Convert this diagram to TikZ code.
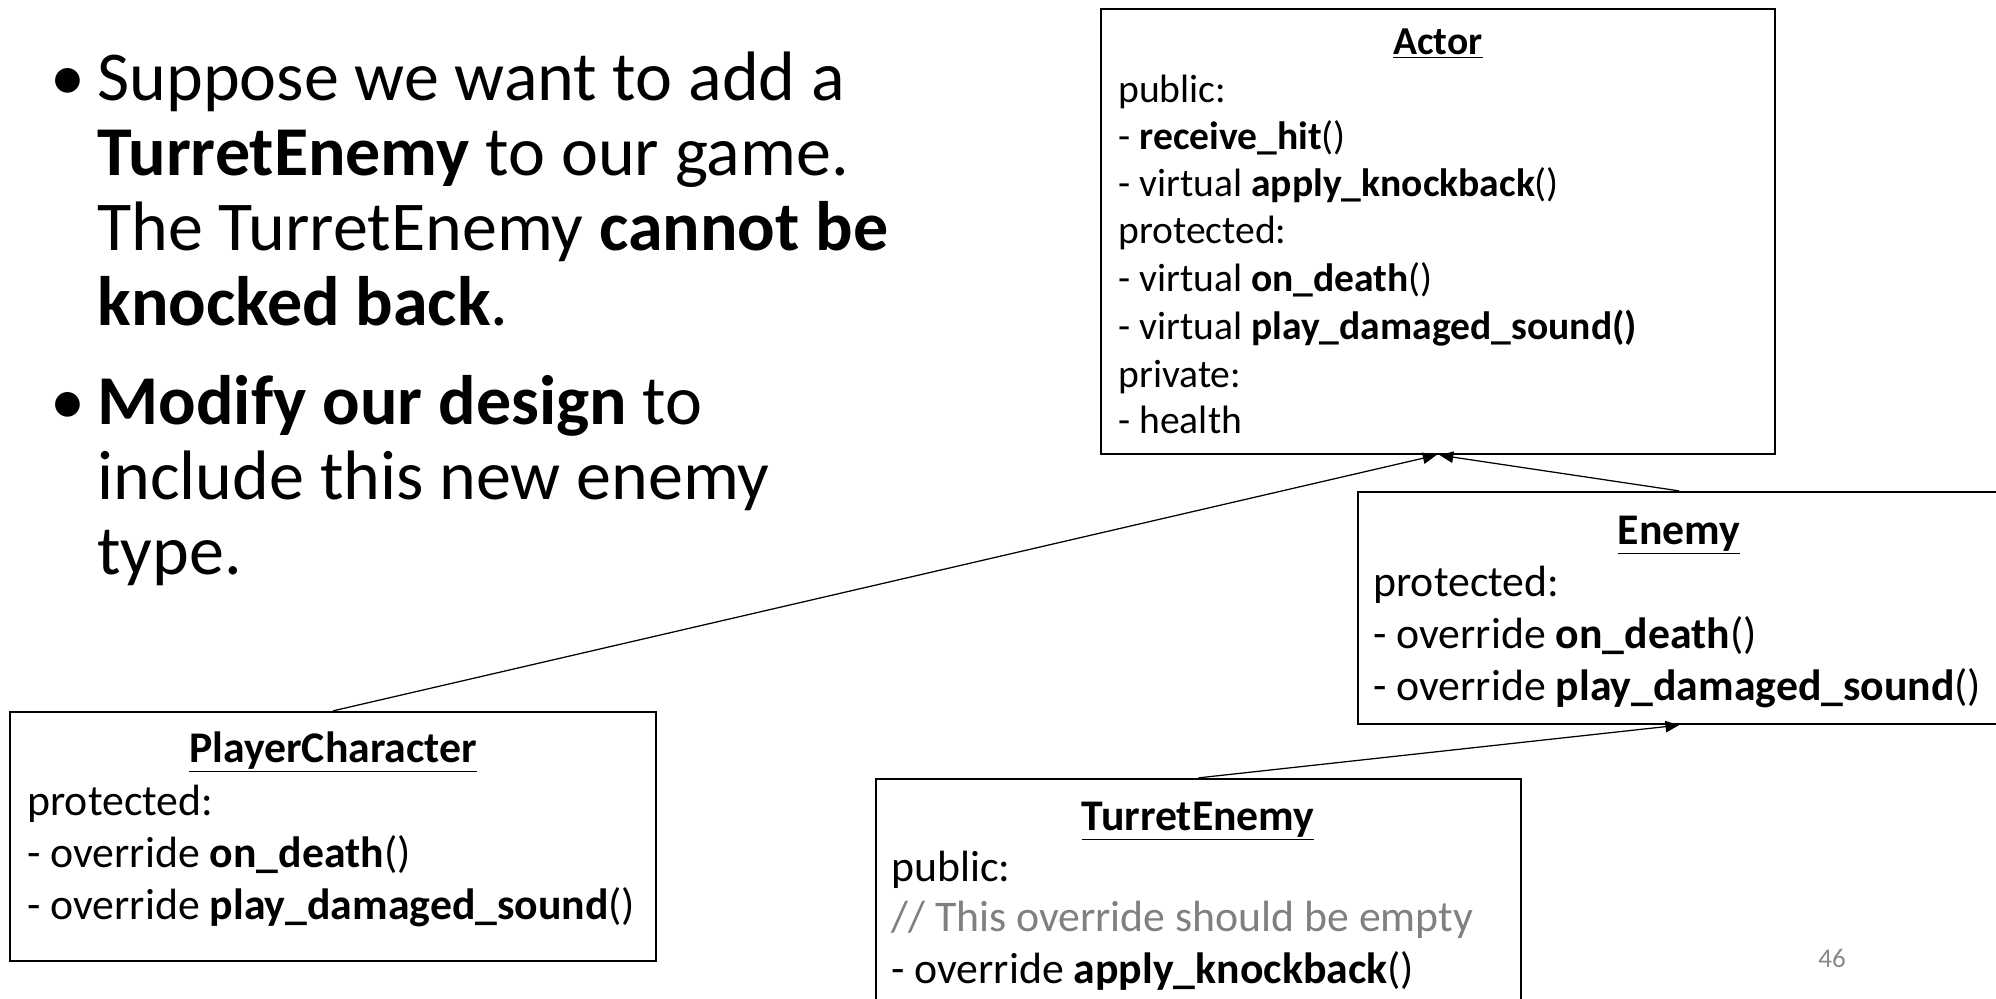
\documentclass[tikz,border=0pt]{standalone}
\usepackage{fontspec}
\setmainfont{Carlito}
\usetikzlibrary{arrows.meta,fit}
\newcommand\bigtxt{\fontsize{33.6}{37}\selectfont}
\newcommand\actfont{\fontsize{19}{22.7}\selectfont}
\newcommand\clsfont{\fontsize{21}{25}\selectfont}
\definecolor{cmtgray}{RGB}{128,128,128}
\definecolor{numgray}{RGB}{137,137,137}
\begin{document}
\begin{tikzpicture}[x=0.48pt,y=-0.48pt,
  umlbox/.style={draw, line width=1.1pt, inner sep=0pt},
  atitle/.style={anchor=base, inner sep=0pt, font=\actfont\bfseries},
  ctitle/.style={anchor=base, inner sep=0pt, font=\clsfont\bfseries},
  aline/.style={anchor=base west, inner sep=0pt, font=\actfont},
  cline/.style={anchor=base west, inner sep=0pt, font=\clsfont},
  bline/.style={anchor=base west, inner sep=0pt, font=\bigtxt},
  bul/.style={anchor=base, inner sep=0pt, font=\bigtxt},
  inherit/.style={-{Triangle[length=6.5pt,width=5.5pt]}, line width=0.6pt}]
\useasboundingbox (0,0) rectangle (1996,998);
\clip (0,0) rectangle (1996,998);

% bullet text
\node[bul] (b1) at (68,100) {•};
\node[bline] (t1) at (97,100) {Suppose we want to add a};
\node[bline] (t2) at (97,175) {\textbf{TurretEnemy} to our game.};
\node[bline] (t3) at (97,250) {The TurretEnemy \textbf{cannot be}};
\node[bline] (t4) at (97,325) {\textbf{knocked back}.};
\node[bul] (b2) at (68,424) {•};
\node[bline] (t5) at (97,424) {\textbf{Modify our design} to};
\node[bline] (t6) at (97,499) {include this new enemy};
\node[bline] (t7) at (97,574) {type.};

% Actor
\coordinate (a-nw) at (1101,9);
\coordinate (a-se) at (1775,454);
\node[umlbox, fit=(a-nw)(a-se)] (actor) {};
\node[atitle] (atl) at (1438,54) {\underline{Actor}};
\node[aline] (a1) at (1118,102) {public:};
\node[aline] (a2) at (1118,149) {- \textbf{receive\_hit}()};
\node[aline] (a3) at (1118,196) {- virtual \textbf{apply\_knockback}()};
\node[aline] (a4) at (1118,243) {protected:};
\node[aline] (a5) at (1118,291) {- virtual \textbf{on\_death}()};
\node[aline] (a6) at (1118,339) {- virtual \textbf{play\_damaged\_sound()}};
\node[aline] (a7) at (1118,387) {private:};
\node[aline] (a8) at (1118,433) {- health};

% Enemy
\coordinate (e-nw) at (1358,492);
\coordinate (e-se) at (2000,724);
\node[umlbox, fit=(e-nw)(e-se)] (enemy) {};
\node[ctitle] (etl) at (1679,544) {\underline{Enemy}};
\node[cline] (e1) at (1373,596) {protected:};
\node[cline] (e2) at (1373,648) {- override \textbf{on\_death}()};
\node[cline] (e3) at (1373,700) {- override \textbf{play\_damaged\_sound}()};

% PlayerCharacter
\coordinate (p-nw) at (10,712);
\coordinate (p-se) at (656,961);
\node[umlbox, fit=(p-nw)(p-se)] (player) {};
\node[ctitle] (ptl) at (333,762) {\underline{PlayerCharacter}};
\node[cline] (p1) at (27,815) {protected:};
\node[cline] (p2) at (27,867) {- override \textbf{on\_death}()};
\node[cline] (p3) at (27,919) {- override \textbf{play\_damaged\_sound}()};

% TurretEnemy
\coordinate (u-nw) at (876,779);
\coordinate (u-se) at (1521,1012);
\node[umlbox, fit=(u-nw)(u-se)] (turret) {};
\node[ctitle] (utl) at (1198,830) {\underline{TurretEnemy}};
\node[cline] (u1) at (891,881) {public:};
\node[cline, text=cmtgray] (u2) at (891,931) {// This override should be empty};
\node[cline] (u3) at (891,983) {- override \textbf{apply\_knockback}()};

% page number
\node[inner sep=0pt, font=\fontsize{13}{15}\selectfont, text=numgray] (pg) at (1832,958) {46};

% connectors
\draw[inherit] (player.north) -- ([xshift=-0.8pt]actor.south);
\draw[inherit] (enemy.north) -- ([xshift=0.8pt]actor.south);
\draw[inherit] (turret.north) -- (enemy.south);
\end{tikzpicture}
\end{document}
